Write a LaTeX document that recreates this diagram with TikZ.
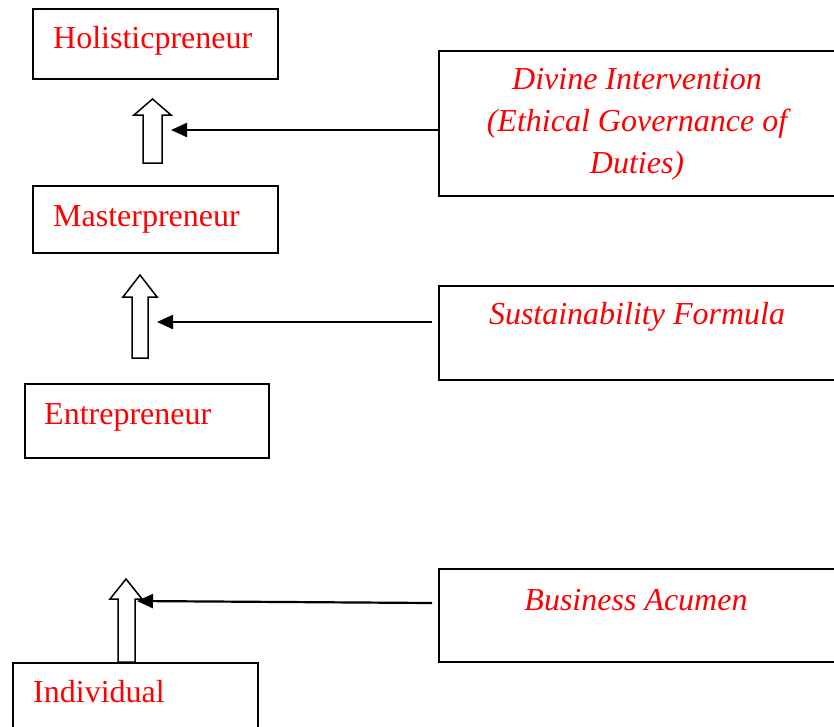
\documentclass[tikz,border=0pt]{standalone}
\usepackage{fontspec}
\setmainfont{Liberation Serif}
\usetikzlibrary{arrows.meta}
\begin{document}
\begin{tikzpicture}[x=1pt,y=-1pt,
  box/.style={draw, line width=1.8pt, inner sep=0pt, anchor=north west},
  lbl/.style={text=red, font=\fontsize{32}{42}\selectfont, inner sep=0pt, anchor=base west},
  rlbl/.style={text=red, font=\fontsize{32}{42}\selectfont\itshape, inner sep=0pt, anchor=base, align=center},
  blk/.style={draw, line width=1.5pt, fill=white, line join=miter},
  con/.style={draw, line width=2.2pt, -{Triangle[length=16pt,width=14pt]}}
]
\useasboundingbox (0,0) rectangle (834,726);

% left boxes
\node[box, minimum width=245pt, minimum height=70pt] (hol) at (32,8) {};
\node[lbl] (holt) at (53,48) {Holisticpreneur};
\node[box, minimum width=245pt, minimum height=67pt] (mas) at (32,185) {};
\node[lbl] (mast) at (53,226) {Masterpreneur};
\node[box, minimum width=244pt, minimum height=74pt] (ent) at (24,383) {};
\node[lbl] (entt) at (44,424) {Entrepreneur};
\node[box, minimum width=245pt, minimum height=80pt] (ind) at (12,662) {};
\node[lbl] (indt) at (33,702) {Individual};

% right boxes
\node[box, minimum width=399pt, minimum height=145pt] (div) at (438,50) {};
\node[rlbl] (divt) at (637,173) {Divine Intervention\\(Ethical Governance of\\Duties)};
\node[box, minimum width=399pt, minimum height=94pt] (sus) at (438,285) {};
\node[rlbl] (sust) at (637,324) {Sustainability Formula};
\node[box, minimum width=399pt, minimum height=93pt] (bus) at (438,568) {};
\node[rlbl] (bust) at (636,610) {Business Acumen};

% block arrows
\draw[blk] (143,163) -- (143,115) -- (134,115) -- (152.5,99) -- (171,115) -- (162,115) -- (162,163) -- cycle;
\draw[blk] (132,358) -- (132,297) -- (123,297) -- (140,275) -- (157,297) -- (148,297) -- (148,358) -- cycle;
\draw[blk] (118,662) -- (118,599) -- (110,599) -- (126,579) -- (142,599) -- (135,599) -- (135,662) -- cycle;

% connector targets
\coordinate (t1) at (171,130);
\coordinate (t2) at (157,322);
\coordinate (t3) at (137,601);
\coordinate (s3) at (432,603);

\draw[con] (div.west |- t1) -- (t1);
\draw[con] ([xshift=-6pt]sus.west |- t2) -- (t2);
\draw[con] (s3) -- (t3);
\end{tikzpicture}
\end{document}
